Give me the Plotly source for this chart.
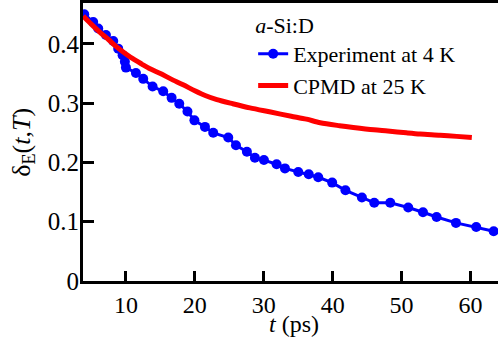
import plotly.graph_objects as go

# Experiment at 4 K (blue)
exp_t = [3.95, 5.25, 5.98, 7.10, 8.16, 8.88, 9.52, 9.85, 10.0, 11.45, 12.51, 13.87,
         15.41, 16.63, 17.74, 18.93, 19.94, 21.47, 22.67, 24.85, 25.97, 27.56, 28.72,
         30.03, 31.87, 33.08, 35.01, 36.53, 37.91, 39.93, 41.86, 44.25, 46.04, 48.36,
         50.97, 53.11, 55.09, 57.90, 60.84, 63.37]
exp_v = [0.450, 0.437, 0.426, 0.415, 0.405, 0.392, 0.381, 0.370, 0.360, 0.351, 0.341,
         0.328, 0.320, 0.309, 0.299, 0.286, 0.271, 0.260, 0.250, 0.242, 0.229, 0.218,
         0.208, 0.204, 0.197, 0.190, 0.184, 0.180, 0.175, 0.166, 0.153, 0.141, 0.132,
         0.132, 0.124, 0.116, 0.108, 0.098, 0.091, 0.084]

# CPMD at 25 K (red)
md_t = [3.8, 5.0, 6.2, 7.5, 8.65, 10.0, 11.0, 12.3, 13.5, 15.0, 16.5, 18.3, 20.0,
        21.5, 23.2, 25.5, 28.0, 31.0, 34.0, 36.2, 38.2, 41.0, 43.0, 46.0, 48.0,
        50.7, 52.7, 55.6, 58.0, 60.2]
md_v = [0.447, 0.433, 0.420, 0.407, 0.395, 0.383, 0.375, 0.366, 0.358, 0.350, 0.341,
        0.331, 0.321, 0.313, 0.306, 0.299, 0.292, 0.285, 0.278, 0.273, 0.267, 0.262,
        0.259, 0.255, 0.253, 0.250, 0.248, 0.246, 0.244, 0.242]

x_ticks = [10, 20, 30, 40, 50, 60]
y_ticks = [0, 0.1, 0.2, 0.3, 0.4]
y_ticktext = ["0", "0.1", "0.2", "0.3", "0.4"]

FONT = "Liberation Serif"

fig = go.Figure()
fig.add_trace(go.Scatter(
    x=exp_t, y=exp_v, mode="lines+markers", name="Experiment at 4 K",
    line=dict(color="#0000ff", width=3),
    marker=dict(color="#0000ff", size=10),
))
fig.add_trace(go.Scatter(
    x=md_t, y=md_v, mode="lines", name="CPMD at 25 K",
    line=dict(color="#ff0000", width=5, shape="spline", smoothing=0.8),
))

fig.update_layout(
    width=498, height=341,
    margin=dict(l=83, r=0, t=1, b=60),
    paper_bgcolor="white", plot_bgcolor="white",
    font=dict(family=FONT, size=25, color="black"),
    showlegend=True,
    legend=dict(
        x=0.41, y=0.995, xanchor="left", yanchor="top",
        bgcolor="rgba(0,0,0,0)",
        font=dict(family=FONT, size=22, color="black"),
        title=dict(text="<i>a</i>-Si:D", font=dict(family=FONT, size=22, color="black")),
        tracegroupgap=0,
    ),
    xaxis=dict(
        range=[3.77, 64.0],
        tickvals=x_ticks,
        ticks="inside", ticklen=10, tickwidth=3, tickcolor="black",
        showline=True, linewidth=3, linecolor="black", mirror=True,
        showgrid=False, zeroline=False,
        tickfont=dict(family=FONT, size=24),
    ),
    yaxis=dict(
        range=[0, 0.469],
        tickvals=y_ticks, ticktext=y_ticktext,
        ticks="inside", ticklen=11, tickwidth=3, tickcolor="black",
        showline=True, linewidth=3, linecolor="black",
        showgrid=False, zeroline=False,
        tickfont=dict(family=FONT, size=25),
        ticklabelstandoff=-4,
    ),
    annotations=[
        dict(
            text="δ<sub>E</sub>(<i>t</i>,<i>T</i>)",
            xref="paper", yref="paper", x=-0.145, y=0.50,
            xanchor="center", yanchor="middle", textangle=-90,
            showarrow=False, font=dict(family=FONT, size=26, color="black"),
        ),
        dict(
            text="<i>t</i> (ps)",
            xref="paper", yref="paper", x=0.508, y=-0.155,
            xanchor="center", yanchor="middle",
            showarrow=False, font=dict(family=FONT, size=24, color="black"),
        ),
    ],
)

fig.write_html("out.html")
